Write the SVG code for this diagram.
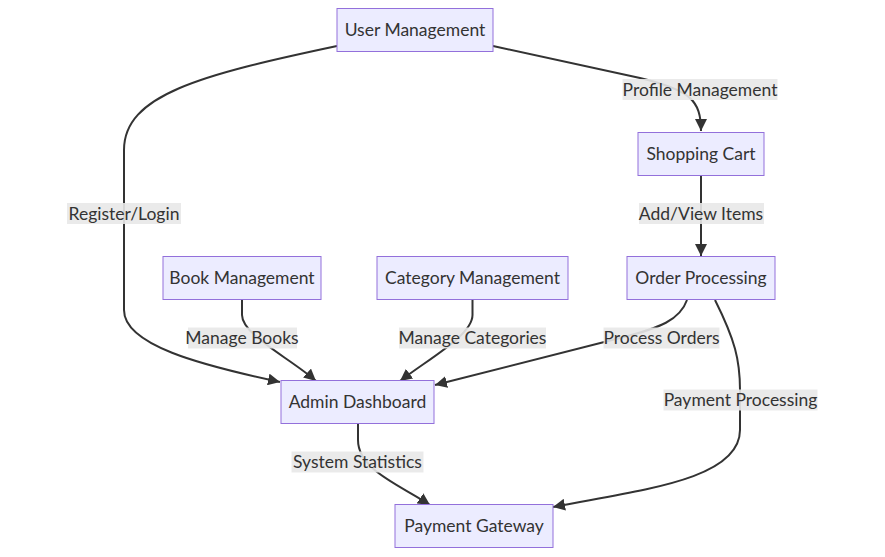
<svg xmlns="http://www.w3.org/2000/svg" width="885" height="557" viewBox="0 0 885 557">
<style>
.node rect{fill:#ECECFF;stroke:#9370DB;stroke-width:1px}
text{font-family:"Trebuchet MS",Lato,"DejaVu Sans",sans-serif;font-size:17.5px;fill:#333333;text-anchor:middle;dominant-baseline:central}
.edge{fill:none;stroke:#333333;stroke-width:2px;marker-end:url(#arrow)}
.lbl rect{fill:#e8e8e8;opacity:0.9}
</style>
<defs>
<marker id="arrow" viewBox="0 0 10 10" refX="10" refY="5" markerWidth="12" markerHeight="12" markerUnits="userSpaceOnUse" orient="auto">
<path d="M0,0 L10,5 L0,10 z" fill="#333333"/>
</marker>
</defs>
<g id="connectors">
<path class="edge" d="M493,46 L640,78 C690,90 701,100 701,131"/>
<path class="edge" d="M337,46 C200,75 124,95 124,150 L124,310 C124,345 200,365 280,382"/>
<path class="edge" d="M242,300 L242,315 C242,335 290,358 316,381"/>
<path class="edge" d="M472.5,300 L472.5,315 C472.5,335 430,358 400,381"/>
<path class="edge" d="M701,176 L701,256"/>
<path class="edge" d="M687,300 C680,320 660,328 620,338 L435,385"/>
<path class="edge" d="M715,300 C735,340 740,360 740,390 L740,430 C740,480 640,490 553,507"/>
<path class="edge" d="M358,424 L358,440 C358,470 400,485 430,505"/>
</g>
<g id="edge-labels">
<g class="lbl"><rect x="622.5" y="79" width="155" height="21"/><text x="700" y="89">Profile Management</text></g>
<g class="lbl"><rect x="67" y="203" width="114" height="21"/><text x="124" y="213">Register/Login</text></g>
<g class="lbl"><rect x="639" y="203" width="125" height="21"/><text x="701" y="213">Add/View Items</text></g>
<g class="lbl"><rect x="188" y="327.5" width="109" height="21"/><text x="242" y="337.5">Manage Books</text></g>
<g class="lbl"><rect x="399" y="327.5" width="147" height="21"/><text x="472.5" y="337.5">Manage Categories</text></g>
<g class="lbl"><rect x="603.5" y="327.5" width="116" height="21"/><text x="661.5" y="337.5">Process Orders</text></g>
<g class="lbl"><rect x="663.5" y="389.5" width="154" height="21"/><text x="740.5" y="399.5">Payment Processing</text></g>
<g class="lbl"><rect x="291.5" y="451.5" width="132" height="21"/><text x="357.5" y="461.5">System Statistics</text></g>
</g>
<g id="user-management" class="node"><rect x="337" y="8.5" width="156" height="43"/><text x="415" y="29.5">User Management</text></g>
<g id="shopping-cart" class="node"><rect x="638" y="132.5" width="126" height="43"/><text x="701" y="153.5">Shopping Cart</text></g>
<g id="book-management" class="node"><rect x="163" y="256.5" width="158" height="43"/><text x="242" y="277.5">Book Management</text></g>
<g id="category-management" class="node"><rect x="377" y="256.5" width="191" height="43"/><text x="472.5" y="277.5">Category Management</text></g>
<g id="order-processing" class="node"><rect x="627" y="256.5" width="148" height="43"/><text x="701" y="277.5">Order Processing</text></g>
<g id="admin-dashboard" class="node"><rect x="281" y="380.5" width="153" height="43"/><text x="357.5" y="401.5">Admin Dashboard</text></g>
<g id="payment-gateway" class="node"><rect x="395" y="504.5" width="158" height="43"/><text x="474" y="525.5">Payment Gateway</text></g>
</svg>
